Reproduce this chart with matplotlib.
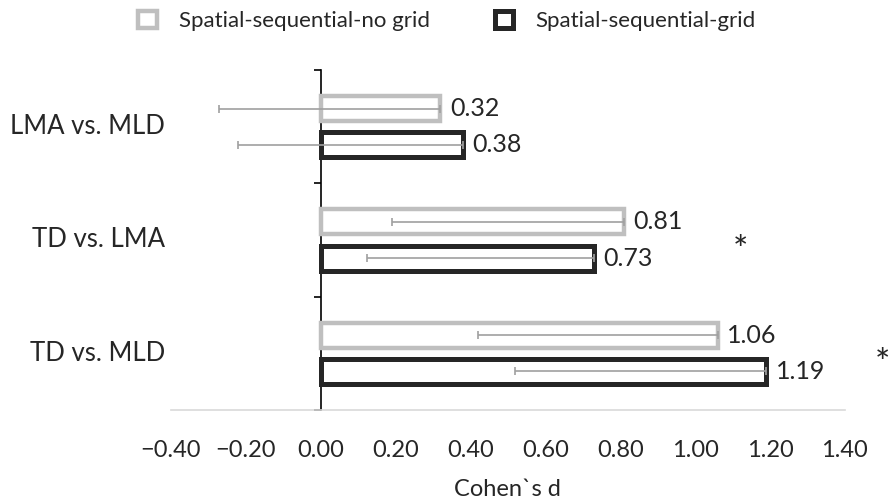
import matplotlib.pyplot as plt
import matplotlib.transforms as mtransforms
import numpy as np

plt.rcParams['font.family'] = ['Lato', 'DejaVu Sans']

# data
categories = ["TD vs. MLD", "TD vs. LMA", "LMA vs. MLD"]   # bottom to top
no_grid = [1.06, 0.81, 0.32]
grid = [1.19, 0.73, 0.38]
no_grid_low = [0.42, 0.19, -0.27]   # lower end of error bar
grid_low = [0.52, 0.125, -0.22]
xticks = [-0.40, -0.20, 0.00, 0.20, 0.40, 0.60, 0.80, 1.00, 1.20, 1.40]
stars = [("TD vs. LMA", 1.12), ("TD vs. MLD", 1.50)]

y = np.arange(len(categories))
h = 0.22
off = 0.16
grey = "#BFBFBF"
dark = "#262626"
errc = "#A0A0A0"
txt = "#262626"

fig = plt.figure(figsize=(8.94, 5.01), dpi=100)
ax = fig.add_axes([0.191, 0.182, 0.754, 0.678])

err_ng = np.array(no_grid) - np.array(no_grid_low)
err_g = np.array(grid) - np.array(grid_low)

b1 = ax.barh(y + off, no_grid, height=h, color="white", edgecolor=grey, linewidth=3.2,
             label="Spatial-sequential-no grid", zorder=2)
b2 = ax.barh(y - off, grid, height=h, color="white", edgecolor=dark, linewidth=3.6,
             label="Spatial-sequential-grid", zorder=2)
ax.errorbar(no_grid, y + off, xerr=[err_ng, np.zeros_like(err_ng)], fmt="none",
            ecolor=errc, elinewidth=1.2, capsize=3, capthick=1.2, zorder=3)
ax.errorbar(grid, y - off, xerr=[err_g, np.zeros_like(err_g)], fmt="none",
            ecolor=errc, elinewidth=1.2, capsize=3, capthick=1.2, zorder=3)

for v, yy in zip(no_grid, y + off):
    ax.annotate(f"{v:.2f}", (v, yy), xytext=(7, 0), textcoords="offset points",
                va="center", ha="left", fontsize=18, color=txt)
for v, yy in zip(grid, y - off):
    ax.annotate(f"{v:.2f}", (v, yy), xytext=(7, 0), textcoords="offset points",
                va="center", ha="left", fontsize=18, color=txt)

for cat, sx in stars:
    ax.annotate("*", (sx, categories.index(cat)), xytext=(0, -8), textcoords="offset points",
                fontsize=26, ha="center", va="center", color=txt, annotation_clip=False)

ax.set_xlim(-0.4, 1.4)
ax.set_ylim(-0.5, 2.5)
ax.set_xticks(xticks)
ax.set_xticklabels([f"{t:.2f}".replace("-", "\u2212") for t in xticks], fontsize=17, color=txt)
ax.tick_params(axis="x", length=0, pad=22)
ax.set_xlabel("Cohen`s d", fontsize=17, color=txt, labelpad=13)

# category axis at x = 0 with ticks between categories
ax.spines["left"].set_position(("data", 0))
ax.spines["left"].set_color("black")
ax.spines["left"].set_linewidth(1.2)
ax.spines["left"].set_zorder(1)
ax.set_yticks(np.arange(-0.5, len(categories), 1.0))
ax.set_yticklabels([])
ax.tick_params(axis="y", length=5, width=1.2, direction="out")
ax.spines["top"].set_visible(False)
ax.spines["right"].set_visible(False)
ax.spines["bottom"].set_color("#D9D9D9")
ax.spines["bottom"].set_linewidth(1.2)

trans = mtransforms.blended_transform_factory(ax.transAxes, ax.transData)
for yy, cat in zip(y, categories):
    ax.text(-0.008, yy, cat, transform=trans, ha="right", va="center",
            fontsize=18.5, color=txt)

fig.legend(handles=[b1, b2], loc="center", bbox_to_anchor=(0.5, 0.958), ncol=2,
           frameon=False, fontsize=16, handlelength=0.85, handleheight=0.85,
           columnspacing=2.9, handletextpad=1.0, labelcolor=txt)

fig.savefig("out.png", dpi=100)
